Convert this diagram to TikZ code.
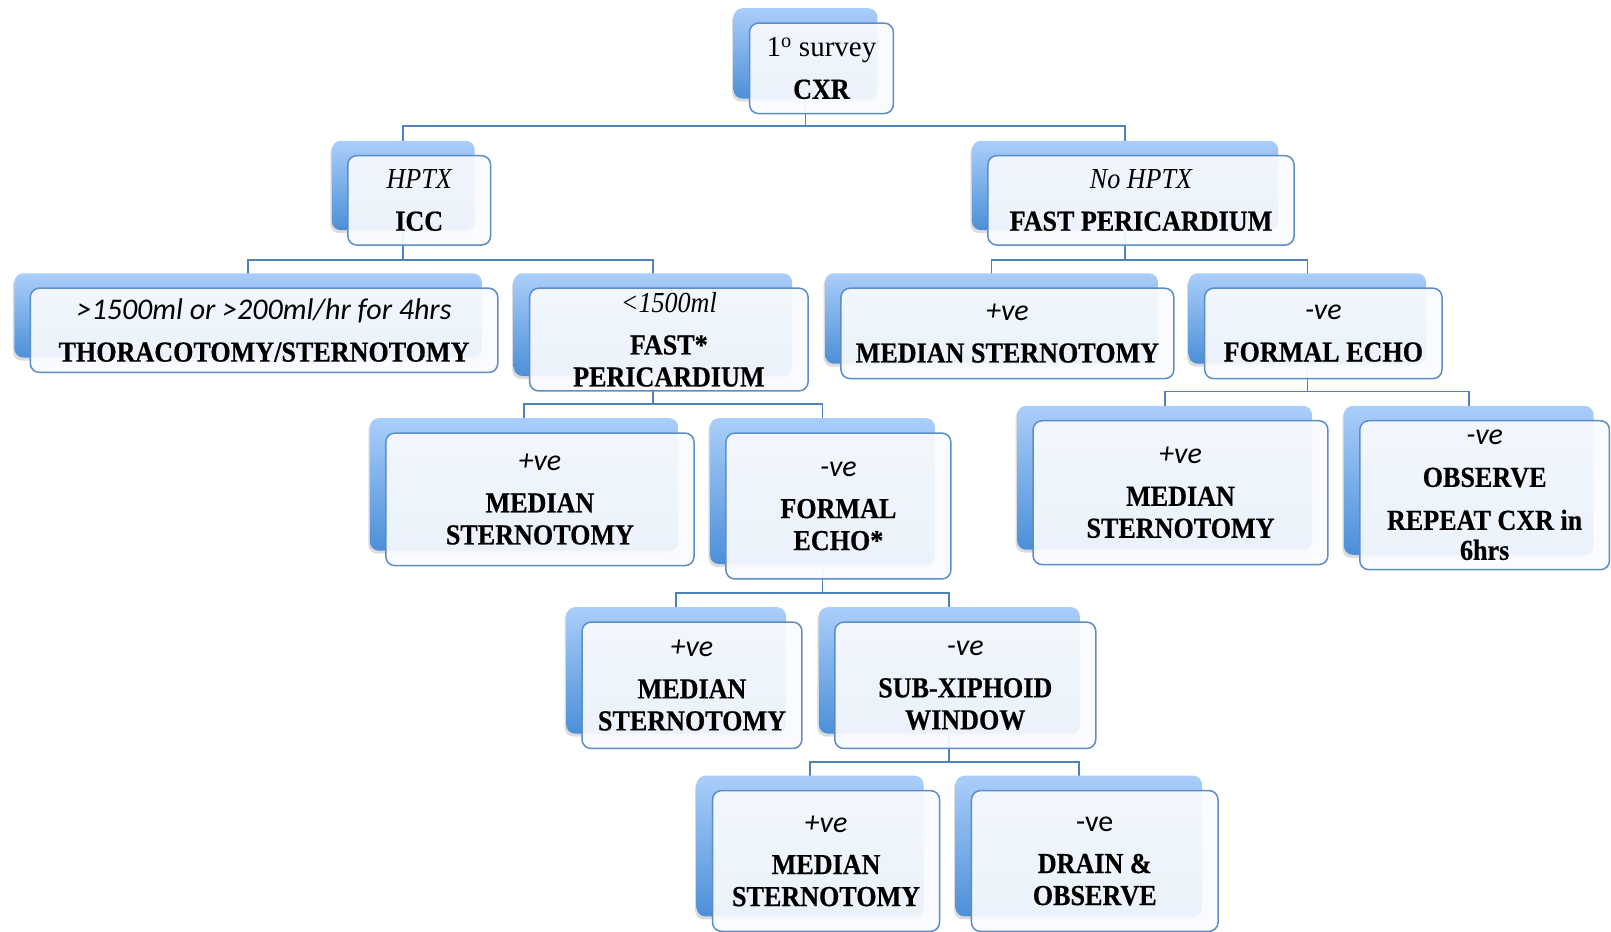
\documentclass[tikz,border=0pt]{standalone}
\usepackage{fontspec}
\setmainfont{Liberation Serif}
\newfontfamily\camb[FakeStretch=0.9, BoldFeatures={FakeBold=0.5}]{Liberation Serif}
\newfontfamily\cambwide{Liberation Serif}
\newfontfamily\cali{Carlito}
\usetikzlibrary{shadows}
\pgfdeclarelayer{background}
\pgfsetlayers{background,main}

\definecolor{linkblue}{RGB}{79,129,189}
\definecolor{edgeblue}{RGB}{92,141,198}
\definecolor{tileTop}{RGB}{170,206,250}
\definecolor{tileBot}{RGB}{76,143,216}
\definecolor{cardFill}{RGB}{249,251,254}

% text flavours used inside the cards
\newcommand\lbl[1]{{\fontsize{30}{32}\selectfont\cali\itshape #1}}
\newcommand\lblup[1]{{\fontsize{30}{32}\selectfont\cali #1}}
\newcommand\ser[1]{{\camb\itshape #1}}
\newcommand\heavy[1]{{\camb\bfseries #1}}

\tikzset{
  tile/.style={rounded corners=9pt, top color=tileTop, bottom color=tileBot,
    draw=none, inner sep=0pt,
    drop shadow={shadow xshift=-1.5pt, shadow yshift=-3pt, opacity=0.28}},
  card/.style={rounded corners=9pt, draw=edgeblue, line width=1.5pt,
    fill=cardFill, fill opacity=0.92, text opacity=1, inner sep=0pt,
    align=center, font=\fontsize{29}{32}\selectfont\camb},
  conn/.style={draw=linkblue, line width=1.8pt}
}

% a blue tile with a card laid over it: name, x1, y1, x2, y2, text
\newcommand\flowbox[6]{%
  \node[tile, minimum width={(#4-#2)*1.0274pt}, minimum height={(#5-#3)*1.0274pt}]
    (#1) at ({(#2+#4)/2},{(#3+#5)/2}) {};
  \node[card, minimum width={(#4-#2)*1.0274pt}, minimum height={(#5-#3)*1.0274pt}]
    (#1f) at ({(#2+#4)/2+15.5},{(#3+#5)/2+14.5}) {#6};
}

% elbow connectors from a parent to its two children: parent, junction y, child, child
\newcommand\branch[4]{%
  \draw[conn] (#1.center) -- (#1.center |- 0,#2) -| (#3.center);
  \draw[conn] (#1.center |- 0,#2) -| (#4.center);
}

\begin{document}
\begin{tikzpicture}[x=1.0274pt, y=-1.0274pt]
\useasboundingbox (0,0) rectangle (1568,907);

\flowbox{root}{714}{8}{854}{96}{{\cambwide 1\textsuperscript{o} survey}\\[10pt]\heavy{CXR}}

\flowbox{hptx}{323}{137}{462}{224}{\ser{HPTX}\\[10pt]\heavy{ICC}}
\flowbox{nohptx}{946}{137}{1244}{224}{\ser{No HPTX}\\[10pt]\heavy{FAST PERICARDIUM}}

\flowbox{gt}{14}{266}{469}{348}{\lbl{>1500ml or >200ml/hr for 4hrs}\\[10pt]\heavy{THORACOTOMY/STERNOTOMY}}
\flowbox{lt}{500}{266}{771}{366}{\ser{<1500ml}\\[10pt]\heavy{FAST*}\\\heavy{PERICARDIUM}}
\flowbox{msA}{803}{266}{1127}{354}{\lbl{+ve}\\[10pt]\heavy{MEDIAN STERNOTOMY}}
\flowbox{echoA}{1157}{266}{1388}{354}{\lbl{-ve}\\[10pt]\heavy{FORMAL ECHO}}

\flowbox{msB}{360}{407}{660}{536}{\lbl{+ve}\\[10pt]\heavy{MEDIAN}\\\heavy{STERNOTOMY}}
\flowbox{echoB}{691}{407}{910}{549}{\lbl{-ve}\\[10pt]\heavy{FORMAL}\\\heavy{ECHO*}}
\flowbox{msC}{990}{395}{1277}{535}{\lbl{+ve}\\[10pt]\heavy{MEDIAN}\\\heavy{STERNOTOMY}}
\flowbox{obs}{1308}{395}{1551}{540}{\lbl{-ve}\\[10pt]\heavy{OBSERVE}\\[11pt]\heavy{REPEAT CXR in}\\[-2pt]\heavy{6hrs}}

\flowbox{msD}{551}{591}{765}{714}{\lbl{+ve}\\[10pt]\heavy{MEDIAN}\\\heavy{STERNOTOMY}}
\flowbox{subx}{797}{591}{1051}{714}{\lbl{-ve}\\[10pt]\heavy{SUB-XIPHOID}\\\heavy{WINDOW}}

\flowbox{msE}{678}{755}{899}{892}{\lbl{+ve}\\[10pt]\heavy{MEDIAN}\\\heavy{STERNOTOMY}}
\flowbox{drain}{930}{755}{1170}{892}{\lblup{-ve}\\[10pt]\heavy{DRAIN \&}\\\heavy{OBSERVE}}

\begin{pgfonlayer}{background}
  \fill[white] (0,0) rectangle (1568,907);
  \branch{root}{123}{hptx}{nohptx}
  \branch{hptx}{253}{gt}{lt}
  \branch{nohptx}{253}{msA}{echoA}
  \branch{lt}{393}{msB}{echoB}
  \branch{echoA}{381}{msC}{obs}
  \branch{echoB}{577}{msD}{subx}
  \branch{subx}{742}{msE}{drain}
\end{pgfonlayer}
\end{tikzpicture}
\end{document}
